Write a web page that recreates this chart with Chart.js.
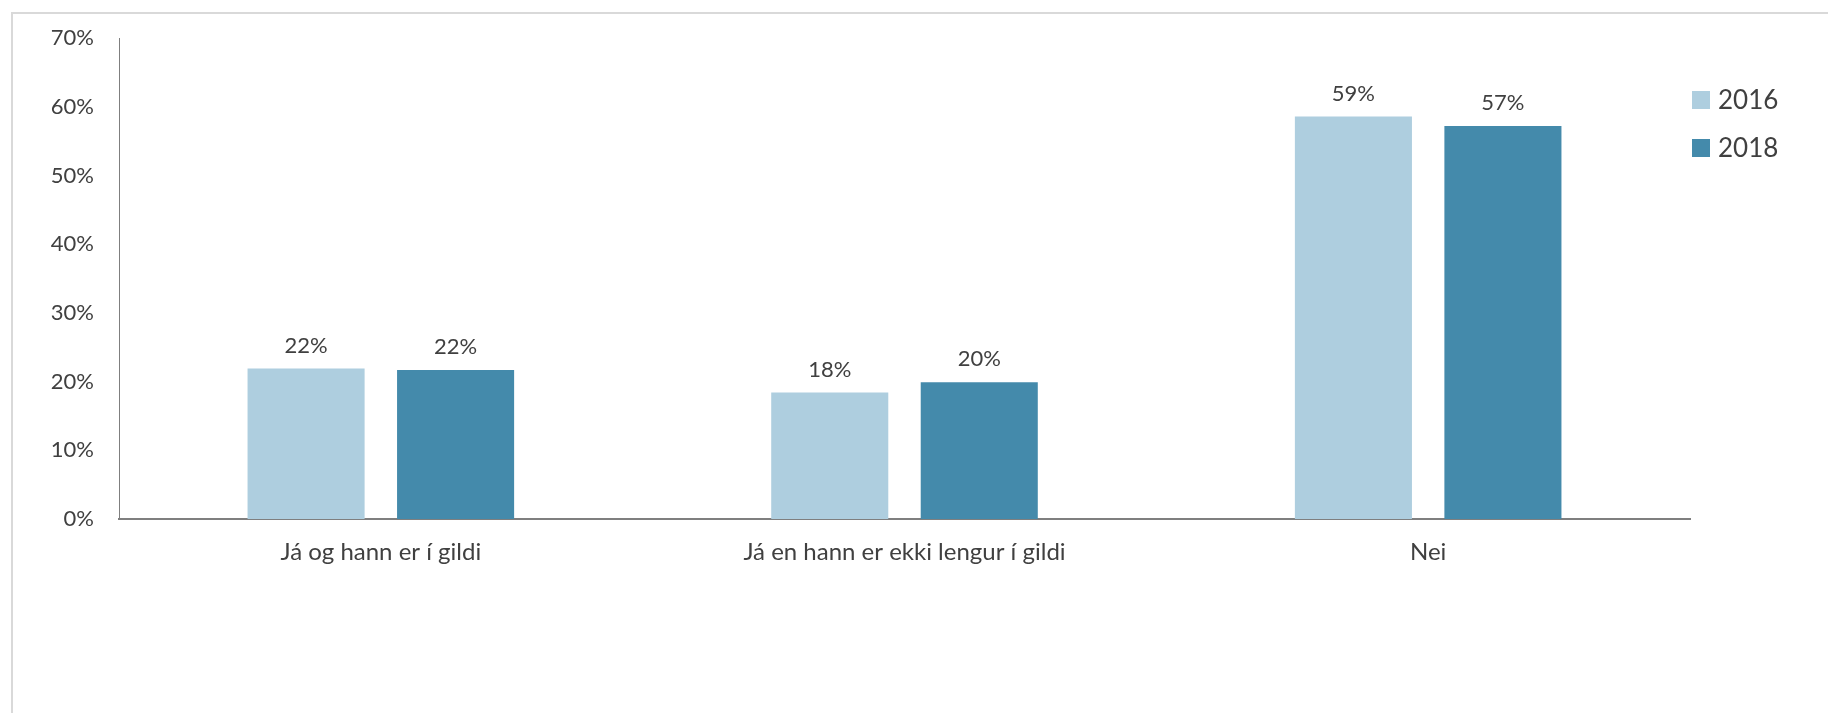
<!DOCTYPE html>
<html>
<head>
<meta charset="utf-8">
<script src="https://cdn.jsdelivr.net/npm/chart.js@4.4.1/dist/chart.umd.min.js"></script>
<style>
  html, body { margin: 0; padding: 0; background: #fff; overflow: hidden; }
  #wrap { position: relative; width: 1828px; height: 713px; }
  #frame { position: absolute; left: 11px; top: 12px; width: 1840px; height: 720px;
           border-left: 2px solid #d9d9d9; border-top: 2px solid #d9d9d9; }
  canvas { position: absolute; left: 0; top: 0; }
</style>
</head>
<body>
<div id="wrap">
  <div id="frame"></div>
  <canvas id="chart" width="1828" height="713"></canvas>
</div>
<script>
// --- Data ---
const categories = ['Já og hann er í gildi', 'Já en hann er ekki lengur í gildi', 'Nei'];
const years = ['2016', '2018'];
const values2016 = [21.9, 18.4, 58.6];
const values2018 = [21.7, 19.9, 57.2];
const yTicks = [0, 10, 20, 30, 40, 50, 60, 70];

const FONT = 'Lato, "Open Sans", sans-serif';
const TEXT = '#404040';

// Value labels above each bar
const valueLabels = {
    id: 'valueLabels',
    afterDatasetsDraw(chart) {
        const ctx = chart.ctx;
        ctx.save();
        ctx.font = '22px ' + FONT;
        ctx.fillStyle = TEXT;
        ctx.textAlign = 'center';
        ctx.textBaseline = 'bottom';
        chart.data.datasets.forEach((ds, i) => {
            chart.getDatasetMeta(i).data.forEach((bar, j) => {
                ctx.fillText(Math.round(ds.data[j]) + '%', bar.x, bar.y - 12);
            });
        });
        ctx.restore();
    }
};

// Legend drawn just right of the plot, like the original
const sideLegend = {
    id: 'sideLegend',
    afterDraw(chart) {
        const ctx = chart.ctx;
        const x = chart.chartArea.right + 2;
        ctx.save();
        ctx.font = '26px ' + FONT;
        ctx.textBaseline = 'middle';
        ctx.textAlign = 'left';
        chart.data.datasets.forEach((ds, i) => {
            const cy = 100 + i * 48;
            ctx.fillStyle = ds.backgroundColor;
            ctx.fillRect(x, cy - 9, 18, 18);
            ctx.fillStyle = TEXT;
            ctx.fillText(ds.label, x + 26, cy + 1);
        });
        ctx.restore();
    }
};

new Chart(document.getElementById('chart').getContext('2d'), {
    type: 'bar',
    data: {
        labels: categories,
        datasets: [
            { label: years[0], data: values2016, backgroundColor: '#aecedf' },
            { label: years[1], data: values2018, backgroundColor: '#448aab' }
        ]
    },
    options: {
        responsive: false,
        animation: false,
        events: [],
        categoryPercentage: 0.571,
        barPercentage: 0.783,
        layout: { padding: { top: 38, right: 138, bottom: 0, left: 0 } },
        plugins: {
            legend: { display: false },
            tooltip: { enabled: false }
        },
        scales: {
            x: {
                grid: { display: false, drawTicks: false },
                border: { color: '#7f7f7f', width: 2 },
                ticks: { font: { family: FONT, size: 24 }, color: TEXT, padding: 19 },
                afterFit(scale) { scale.height = 194; }
            },
            y: {
                min: 0,
                max: 70,
                grid: { display: false, drawTicks: false },
                border: { color: '#7f7f7f', width: 1 },
                afterBuildTicks(scale) { scale.ticks = yTicks.map(v => ({ value: v })); },
                ticks: {
                    font: { family: FONT, size: 22 },
                    color: TEXT,
                    padding: 25,
                    callback: v => v + '%'
                },
                afterFit(scale) { scale.width = 119; }
            }
        }
    },
    plugins: [valueLabels, sideLegend]
});
</script>
</body>
</html>
